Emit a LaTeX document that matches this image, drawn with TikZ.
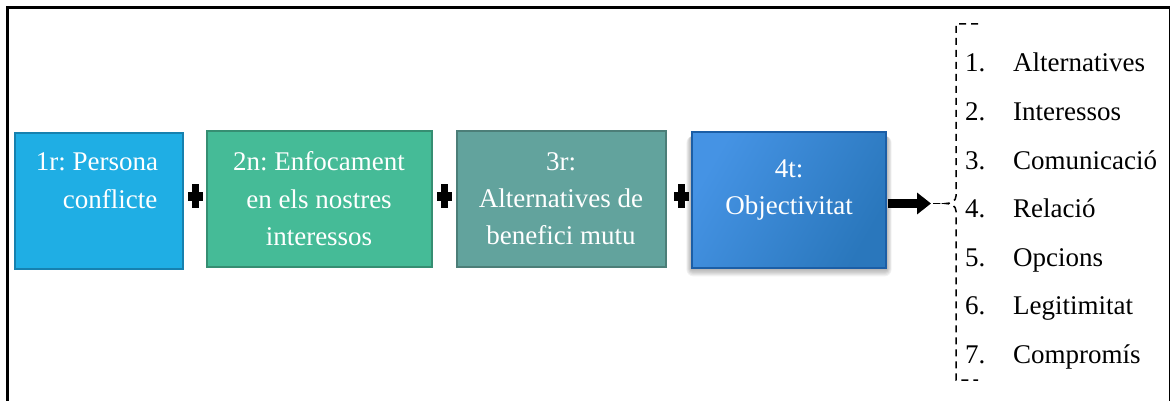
\documentclass[tikz,border=0pt]{standalone}
\usepackage{fontspec}
\setmainfont{Liberation Serif}
\usetikzlibrary{arrows.meta}
\frenchspacing
\definecolor{cA}{HTML}{1FAEE4}
\definecolor{cAb}{HTML}{1681AF}
\definecolor{cB}{HTML}{45BB97}
\definecolor{cBb}{HTML}{368E72}
\definecolor{cC}{HTML}{62A39D}
\definecolor{cCb}{HTML}{4C7E78}
\definecolor{cDl}{HTML}{4593E4}
\definecolor{cDd}{HTML}{2A77BC}
\definecolor{cDb}{HTML}{1B5EA6}
\begin{document}
\begin{tikzpicture}[x=1pt,y=-1pt,
  boxbase/.style={draw, line width=2pt, rectangle, inner sep=0pt},
  wtxt/.style={text=white, font=\fontsize{27}{30}\selectfont\frenchspacing, anchor=base, inner sep=0pt},
  ltxt/.style={text=black, font=\fontsize{27}{30}\selectfont, anchor=base west, inner sep=0pt},
  plusbar/.style={fill=black},
  softshadow/.style={fill=black, opacity=0.05},
  bracketline/.style={draw=black, line width=1.5pt, dash pattern=on 7pt off 5pt}
]
\useasboundingbox (0,0) rectangle (1172,401);
% frame
\draw[line width=3pt] (7.5,401) -- (7.5,8) -- (1170,8);
\draw[line width=1.8pt] (1169.5,8) -- (1169.5,401);

% soft shadow of box 4
\foreach \s in {1,2,...,7}{
  \fill[softshadow, rounded corners=\s pt] (692-\s*0.8,136) rectangle (886+\s*0.8,268+\s*1.2);
}

% boxes
\node[boxbase, draw=cAb, fill=cA, minimum width=168pt, minimum height=135pt] (b1) at (99,201) {};
\node[boxbase, draw=cBb, fill=cB, minimum width=225pt, minimum height=136pt] (b2) at (319.5,199) {};
\node[boxbase, draw=cCb, fill=cC, minimum width=209pt, minimum height=136pt] (b3) at (561.5,199) {};
\node[boxbase, draw=cDb, left color=cDl, right color=cDd, shading angle=60,
  minimum width=194pt, minimum height=136pt] (b4) at (789,200) {};

% box texts
\node[wtxt] (t1a) at (97,170) {1r: Persona};
\node[wtxt] (t1b) at (110,208) {conflicte};
\node[wtxt] (t2a) at (319,170) {2n: Enfocament};
\node[wtxt] (t2b) at (319,208) {en els nostres};
\node[wtxt] (t2c) at (319,245) {interessos};
\node[wtxt] (t3a) at (561,170) {3r:};
\node[wtxt] (t3b) at (561,207) {Alternatives de};
\node[wtxt] (t3c) at (561,244) {benefici mutu};
\node[wtxt] (t4a) at (789,177) {4t:};
\node[wtxt] (t4b) at (789,214) {Objectivitat};

% plus signs
\foreach \px in {195,444,681}{
  \fill[plusbar] (\px-3.5,184) rectangle (\px+3.5,208);
  \fill[plusbar] (\px-7.5,192) rectangle (\px+7.5,201);
}

% bracket
\coordinate (tip) at (946,203.5);
\coordinate (arend) at (931,203.5);
\draw[bracketline] (978,24) -- (956,24) -- (956,196)
  .. controls (956,201) and (951,203.5) .. (tip)
  .. controls (951,203.5) and (956,206) .. (956,211) -- (956,380) -- (978,380);

% arrow
\draw[line width=9pt, -{Triangle[length=14pt,width=21pt]}] (b4.east) ++(1,3.5) -- (arend);
\draw[bracketline] (arend) ++(2,0) -- (tip);

% list
\foreach \n/\w [count=\i from 0] in {1/Alternatives,2/Interessos,3/Comunicació,4/Relació,5/Opcions,6/Legitimitat,7/Compromís}{
  \node[ltxt] (n\n) at (965,72+48.5*\i) {\n.};
  \node[ltxt] (w\n) at (1013,72+48.5*\i) {\w};
}
\end{tikzpicture}
\end{document}
